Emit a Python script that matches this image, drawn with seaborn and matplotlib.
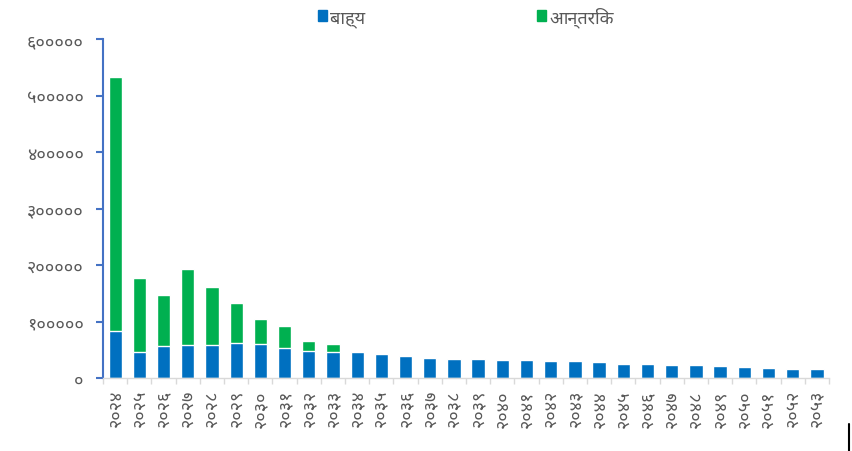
import numpy as np
import pandas as pd
import matplotlib
matplotlib.use("Agg")
import matplotlib.pyplot as plt
import seaborn as sns
from matplotlib import font_manager
from matplotlib.patches import Patch
from matplotlib.lines import Line2D

# years (Bikram Sambat)
years = ['२०२४', '२०२५', '२०२६', '२०२७', '२०२८', '२०२९', '२०३०', '२०३१', '२०३२', '२०३३',
         '२०३४', '२०३५', '२०३६', '२०३७', '२०३८', '२०३९', '२०४०', '२०४१', '२०४२', '२०४३',
         '२०४४', '२०४५', '२०४६', '२०४७', '२०४८', '२०४९', '२०५०', '२०५१', '२०५२', '२०५३']

# external debt (blue)
external = [82600, 45400, 56000, 57800, 57800, 61400, 59600, 52500, 48400, 46600,
            46200, 42600, 39000, 35500, 33700, 33700, 32000, 32000, 30200, 30200,
            28400, 24900, 24900, 23100, 23100, 21300, 19500, 17800, 16000, 16000]

# internal debt (green)
internal = [450100, 132200, 91500, 134500, 103900, 71900, 45400, 40100, 17700, 14200,
            0, 0, 0, 0, 0, 0, 0, 0, 0, 0,
            0, 0, 0, 0, 0, 0, 0, 0, 0, 0]

yticks = [0, 100000, 200000, 300000, 400000, 500000, 600000]
ytick_labels = ['०', '१०००००', '२०००००', '३०००००', '४०००००', '५०००००', '६०००००']

legend_labels = ['बाह्य', 'आन्तरिक']

BLUE = '#0070C0'
GREEN = '#00B050'
TEXT = '#595959'


def pick_devanagari_font():
    """
    Pick an installed font with Devanagari glyphs, in order of preference.
    """
    names = {f.name for f in font_manager.fontManager.ttflist}
    for name in ['Noto Sans Devanagari', 'Hind', 'Mukta', 'Amiko',
                 'Annapurna SIL', 'FreeSans']:
        if name in names:
            return name
    return None


sns.set_theme(style="white")
deva = pick_devanagari_font()
plt.rcParams['font.family'] = [deva, 'DejaVu Sans'] if deva else ['DejaVu Sans']

df = pd.DataFrame({'year': years, 'external': external, 'internal': internal})
df['total'] = df['external'] + df['internal']

fig = plt.figure(figsize=(8.52, 4.52), dpi=100)
ax = fig.add_axes([0.121, 0.1615, 0.852, 0.75])

sns.barplot(data=df, x='year', y='total', color=GREEN, width=0.55,
            saturation=1, ax=ax)
sns.barplot(data=df, x='year', y='external', color=BLUE, width=0.55,
            saturation=1, ax=ax)

ax.set_ylim(0, 600000)
ax.set_xlim(-0.5, len(years) - 0.5)
ax.set_xlabel('')
ax.set_ylabel('')

ax.set_yticks(yticks)
ax.set_yticklabels(ytick_labels, color=TEXT, fontsize=13)
ax.set_xticks(range(len(years)))
ax.set_xticklabels(years, rotation=90, color=TEXT, fontsize=13)
ax.set_xticks(np.arange(-0.5, len(years), 1), minor=True)

ax.tick_params(axis='y', which='major', length=5, width=1.5, color='#4472C4',
               left=True, pad=9)
ax.tick_params(axis='x', which='major', length=0, pad=8)
ax.tick_params(axis='x', which='minor', length=4, width=1, color='#D9D9D9',
               bottom=True)

for side in ['top', 'right']:
    ax.spines[side].set_visible(False)
ax.spines['left'].set_color('#4472C4')
ax.spines['left'].set_linewidth(1.5)
ax.spines['bottom'].set_color('#D9D9D9')
ax.spines['bottom'].set_linewidth(1)
ax.grid(False)

handles = [Patch(color=BLUE), Patch(color=GREEN)]
fig.legend(handles, legend_labels, loc='center', bbox_to_anchor=(0.547, 0.962),
           ncol=2, frameon=False, fontsize=13, handlelength=0.5, handleheight=0.5,
           handletextpad=0.2, columnspacing=9.5, labelcolor=TEXT)

# stray edge mark seen at the bottom right of the source image
fig.add_artist(Line2D([0.9965, 0.9965], [0.0, 0.06], color='black', lw=1.5))

fig.savefig('out.png', dpi=100)
